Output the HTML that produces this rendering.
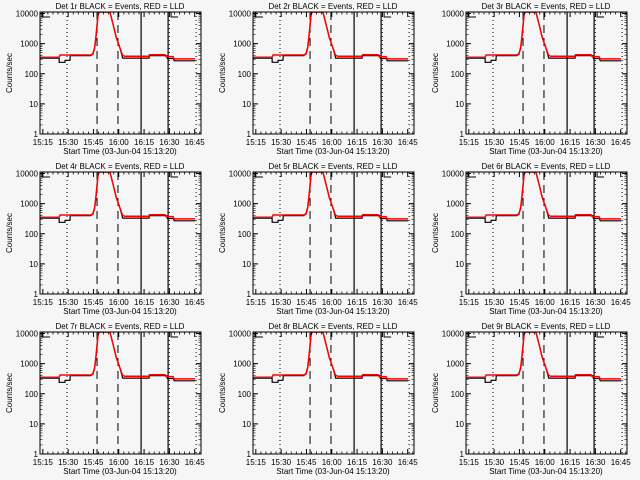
<!DOCTYPE html>
<html><head><meta charset="utf-8"><style>
html,body{margin:0;padding:0;background:#f6f6f6}
svg{display:block}
text{font-family:"Liberation Sans",sans-serif;font-size:8px;fill:#000}
</style></head><body>
<svg id="chart" width="640" height="480" xmlns="http://www.w3.org/2000/svg">
<rect x="0" y="0" width="640" height="480" fill="#f6f6f6"/>
</svg>
<script>
const detectors = ["1r","2r","3r","4r","5r","6r","7r","8r","9r"];
const xTickLabels = ["15:15","15:30","15:45","16:00","16:15","16:30","16:45"];
const xTickMinutes = [1.67,16.67,31.67,46.67,61.67,76.67,91.67];
const yTickValues = [1,10,100,1000,10000];
const yTickLabels = ["1","10","100","1000","10000"];
const redTimes = [0,11.3,11.9,30.2,31.4,32.4,33.2,34.4,35,40.9,41.5,43.3,45.2,47.2,48.8,50.2,64.6,64.9,74.1,74.7,78.8,79.4,91.9];
const redValues = [355,355,420,420,470,760,1800,9500,14000,14000,11000,4300,1600,760,420,380,380,430,430,370,370,310,310];
const blackTimes = [0,11.3,11.4,14.8,14.9,17.8,17.9,30,31.4,32.4,33.2,34.4,35,40.9,41.5,43.3,45.2,47.2,49,64.6,64.9,75,75.5,79,79.5,92];
const blackValues = [330,330,240,240,280,280,400,400,450,700,1700,9000,14000,14000,11000,4300,1600,760,330,330,400,400,320,320,270,270];
const dottedLines = [16,76.6,92.5];
const dashedLines = [33.8,46.2];
const solidLines = [59.9,75.9];

const NS="http://www.w3.org/2000/svg";
const svg=document.getElementById('chart');
const L=40,R=201,T=12,B=134,TMAX=95.4;
function mk(tag,attrs,parent){const e=document.createElementNS(NS,tag);for(const k in attrs)e.setAttribute(k,attrs[k]);parent.appendChild(e);return e;}
function xs(t){return L+(t/TMAX)*(R-L);}
function ys(v){const y=B-(Math.log10(v)/4)*(B-T-1.5);return Math.max(T,Math.min(B,y));}

detectors.forEach((det,i)=>{
  const ox=(i%3)*213, oy=Math.floor(i/3)*160;
  const g=mk('g',{transform:`translate(${ox},${oy})`},svg);
  
  
  const cp='clip'+i;
  const cl=mk('clipPath',{id:cp},g);mk('rect',{x:L,y:T,width:R-L,height:B-T},cl);
  dottedLines.forEach(t=>{const l=mk('line',{x1:xs(t),x2:xs(t),y1:T,y2:B,stroke:'#000','stroke-dasharray':'1,3','stroke-width':1},g);
    });
  dashedLines.forEach(t=>{const l=mk('line',{x1:xs(t),x2:xs(t),y1:T,y2:B,stroke:'#000','stroke-dasharray':'8,5','stroke-width':1},g);
    });
  solidLines.forEach(t=>{const l=mk('line',{x1:xs(t),x2:xs(t),y1:T,y2:B,stroke:'#000','stroke-width':1.2},g);
    });
  mk('path',{d:`M${L+2},${T}V${T+5}H${L+10}M${xs(75.9)+3},${T}V${T+5}H${xs(75.9)+10}`,stroke:'#000',fill:'none'},g);
  const bp=blackTimes.map((t,k)=>`${xs(t).toFixed(1)},${ys(blackValues[k]).toFixed(1)}`).join(' ');
  const bl=mk('polyline',{points:bp,fill:'none',stroke:'#000','stroke-width':1.2,'clip-path':`url(#${cp})`},g);
  
  const rp=redTimes.map((t,k)=>`${xs(t).toFixed(1)},${ys(redValues[k]).toFixed(1)}`).join(' ');
  const rl=mk('polyline',{points:rp,fill:'none',stroke:'#ff0000','stroke-width':1.5,'clip-path':`url(#${cp})`},g);
  
  const bx=mk('rect',{x:L,y:T,width:R-L,height:B-T,fill:'none',stroke:'#000','stroke-width':1},g);
  
  yTickValues.forEach((v,k)=>{
    const y=ys(v);
    mk('line',{x1:L,x2:L+5,y1:y,y2:y,stroke:'#000'},g);
    mk('line',{x1:R,x2:R-5,y1:y,y2:y,stroke:'#000'},g);
    if(k<4){for(let m=2;m<10;m++){const yy=ys(v*m);mk('line',{x1:L,x2:L+2.5,y1:yy,y2:yy,stroke:'#000','stroke-width':0.6},g);mk('line',{x1:R,x2:R-2.5,y1:yy,y2:yy,stroke:'#000','stroke-width':0.6},g);}}
    const tx=mk('text',{x:L-2,y:y+3,'text-anchor':'end'},g);tx.textContent=yTickLabels[k];
    
  });
  xTickMinutes.forEach((t,k)=>{
    const x=xs(t);
    mk('line',{x1:x,x2:x,y1:B,y2:B-5,stroke:'#000'},g);
    mk('line',{x1:x,x2:x,y1:T,y2:T+5,stroke:'#000'},g);
    for(let m=1;m<5;m++){const xm=xs(t+m*3);if(xm<R){mk('line',{x1:xm,x2:xm,y1:B,y2:B-2.5,stroke:'#000','stroke-width':0.8},g);mk('line',{x1:xm,x2:xm,y1:T,y2:T+2.5,stroke:'#000','stroke-width':0.8},g);}}
    const tx=mk('text',{x:x,y:B+11,'text-anchor':'middle'},g);tx.textContent=xTickLabels[k];
    
  });
  const xl=mk('text',{x:120,y:B+20,'text-anchor':'middle'},g);xl.textContent='Start Time (03-Jun-04 15:13:20)';
  
  const yl=mk('text',{x:12,y:73,'text-anchor':'middle',transform:'rotate(-90 12 73)','font-size':'8'},g);yl.textContent='Counts/sec';
  
  const ti=mk('text',{x:120,y:9,'text-anchor':'middle','font-size':'10'},g);ti.textContent='Det '+det+' BLACK = Events, RED = LLD';
  
});
</script>
</body></html>
